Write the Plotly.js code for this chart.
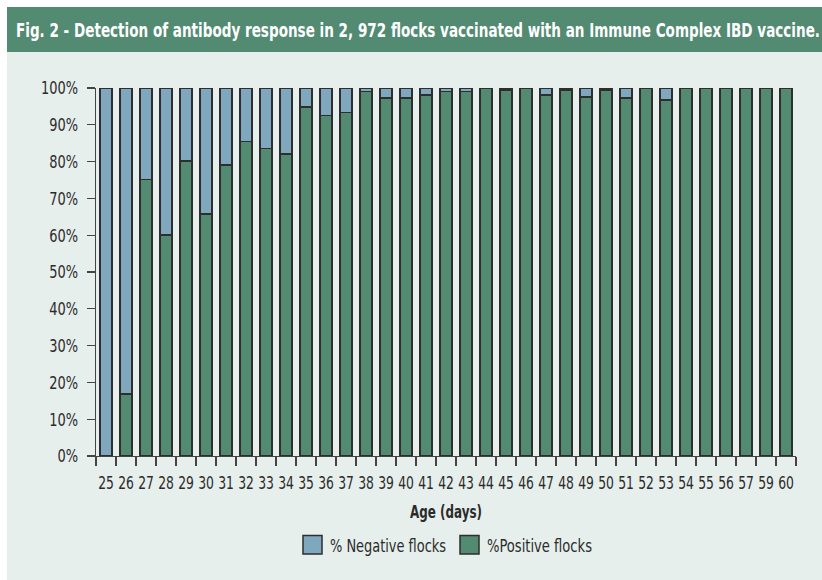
<!DOCTYPE html>
<html>
<head>
<meta charset="utf-8">
<script src="https://cdn.plot.ly/plotly-3.0.1.min.js"></script>
<style>html,body{margin:0;padding:0;background:#fff;}#chart{width:822px;height:580px;}</style>
</head>
<body>
<div id="chart"></div>
<script>
// Data
const ageDays = ['25','26','27','28','29','30','31','32','33','34','35','36','37','38','39','40','41','42','43','44','45','46','47','48','49','50','51','52','53','54','55','56','57','59','60'];
const positivePct = [0,16.8,75.1,60.0,80.2,65.8,79.1,85.4,83.5,82.1,94.9,92.5,93.4,99.1,97.3,97.3,98.1,99.1,99.1,100,99.5,100,98.1,99.5,97.6,99.5,97.3,100,96.8,100,100,100,100,100,100];
const negativePct = positivePct.map(v => Math.round((100 - v) * 10) / 10);
const yTickVals = [0,10,20,30,40,50,60,70,80,90,100];
const yTickText = ['0%','10%','20%','30%','40%','50%','60%','70%','80%','90%','100%'];
const seriesNames = ['%Positive flocks', '% Negative flocks'];
const titleText = 'Fig. 2 - Detection of antibody response in 2, 972 flocks vaccinated with an Immune Complex IBD vaccine.';
const xTitleText = 'Age (days)';

const FONT = '"DejaVu Sans Condensed", "DejaVu Sans", sans-serif';
const GREEN = '#528a72';
const BLUE = '#7fa8be';
const LINE = '#2e2e2e';
const TXT = '#2b2b2b';

// plot area in pixels: x 96..796, y 88..456
const W = 822, H = 580, L = 96, R = 26, T = 88, B = 124;
const pw = W - L - R, ph = H - T - B;
const px = x => (x - L) / pw;
const py = y => (H - B - y) / ph;

const traces = [
  {type:'bar', name: seriesNames[0], x: ageDays, y: positivePct,
   marker:{color: GREEN, line:{color: LINE, width:1.5}}, width:0.62, hoverinfo:'x+y'},
  {type:'bar', name: seriesNames[1], x: ageDays, y: negativePct,
   marker:{color: BLUE, line:{color: LINE, width:1.5}}, width:0.62, hoverinfo:'x+y'}
];

const layout = {
  width: W, height: H,
  margin: {l:L, r:R, t:T, b:B, pad:0},
  paper_bgcolor: '#e6efec',
  plot_bgcolor: 'rgba(0,0,0,0)',
  barmode: 'stack',
  font: {family: FONT, size: 18, color: TXT},
  showlegend: false,
  xaxis: {type:'category', categoryorder:'array', categoryarray: ageDays,
          tickmode:'array', tickvals: ageDays, ticktext: ageDays,
          showline:true, linecolor:'#444', linewidth:1.3,
          ticks:'outside', ticklen:9, tickcolor:'#444', tickwidth:1.3, tickson:'boundaries',
          tickangle:0, ticklabelstandoff:10, tickfont:{family: FONT, size:18, color: TXT},
          showgrid:false, zeroline:false,
          title:{text: xTitleText, font:{family: FONT, size:18, color: TXT, weight:'bold'}, standoff:13}},
  yaxis: {range:[0,100], tickvals: yTickVals, ticktext: yTickText,
          showline:true, linecolor:'#444', linewidth:1.3,
          ticks:'outside', ticklen:8, tickcolor:'#444', tickwidth:1.3,
          ticklabelstandoff:5, tickfont:{family: FONT, size:18, color: TXT},
          showgrid:false, zeroline:false},
  shapes: [
    {type:'rect', xref:'paper', yref:'paper', x0: px(0), x1: px(W), y0: py(0), y1: py(7), fillcolor:'#ffffff', line:{width:0}, layer:'below'},
    {type:'rect', xref:'paper', yref:'paper', x0: px(0), x1: px(7), y0: py(0), y1: py(H), fillcolor:'#ffffff', line:{width:0}, layer:'below'},
    {type:'rect', xref:'paper', yref:'paper', x0: px(7), x1: px(W), y0: py(7), y1: py(52), fillcolor: GREEN, line:{width:0}, layer:'below'},
    // legend swatches
    {type:'rect', xref:'paper', yref:'paper', x0: px(303), x1: px(322), y0: py(535.5), y1: py(554), fillcolor: BLUE, line:{color: LINE, width:1.5}},
    {type:'rect', xref:'paper', yref:'paper', x0: px(460), x1: px(479), y0: py(535.5), y1: py(554), fillcolor: GREEN, line:{color: LINE, width:1.5}}
  ],
  annotations: [
    {xref:'paper', yref:'paper', x: px(14), y: py(30), xanchor:'left', yanchor:'middle',
     text: titleText, showarrow:false,
     font:{family: FONT, size:20, color:'#ffffff', weight:'bold'}},
    {xref:'paper', yref:'paper', x: px(328), y: py(545), xanchor:'left', yanchor:'middle',
     text: seriesNames[1], showarrow:false, font:{family: FONT, size:18, color: TXT}},
    {xref:'paper', yref:'paper', x: px(485), y: py(545), xanchor:'left', yanchor:'middle',
     text: seriesNames[0], showarrow:false, font:{family: FONT, size:18, color: TXT}}
  ]
};

function squeeze(el, target) {
  el.setAttribute('textLength', target.toFixed(1));
  el.setAttribute('lengthAdjust', 'spacingAndGlyphs');
}
// squeeze while keeping the text's left edge in place
function squeezeLeft(el, target) {
  const len = el.getComputedTextLength();
  const anchor = el.getAttribute('text-anchor') || getComputedStyle(el).textAnchor || 'start';
  const x = parseFloat(el.getAttribute('x')) || 0;
  const left = anchor === 'middle' ? x - len / 2 : (anchor === 'end' ? x - len : x);
  el.setAttribute('x', left.toFixed(2));
  el.setAttribute('text-anchor', 'start');
  el.style.textAnchor = 'start';
  squeeze(el, target);
}

Plotly.newPlot('chart', traces, layout, {displayModeBar:false, staticPlot:true}).then(gd => {
  gd.querySelectorAll('.xtick text').forEach(t => squeeze(t, t.getComputedTextLength() * 0.76));
  gd.querySelectorAll('.ytick text').forEach(t => squeeze(t, t.getComputedTextLength() * 0.80));
  gd.querySelectorAll('.g-xtitle text').forEach(t => squeeze(t, 72));
  const ann = gd.querySelectorAll('.annotation-text');
  const targets = [804, 116, 105];
  ann.forEach((t, i) => squeezeLeft(t, targets[i]));
});
</script>
</body>
</html>
